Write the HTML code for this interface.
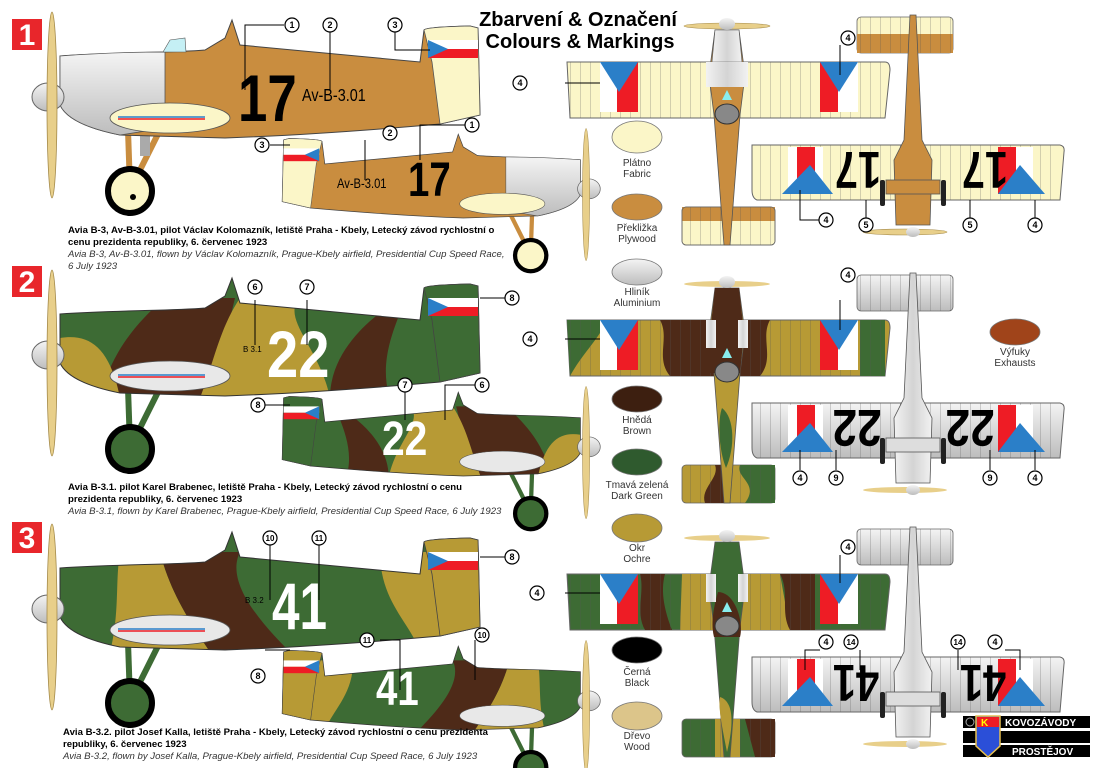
<!DOCTYPE html>
<html><head><meta charset="utf-8"><style>
html,body{margin:0;padding:0;background:#fff}
svg{display:block}
text{font-family:"Liberation Sans",sans-serif}
</style></head><body>
<svg width="1100" height="768" viewBox="0 0 1100 768" xmlns="http://www.w3.org/2000/svg">
<defs>
<path id="fus" d="M60,56 C120,52 170,53 205,50 L225,38 L232,20 L240,45 L420,62 L424,30 Q426,27 470,26 L478,28 L480,115 L440,124 C350,132 280,136 225,138 L120,135 C85,128 66,118 60,105 Z"/>
<clipPath id="fc"><use href="#fus"/></clipPath>
<linearGradient id="sil" x1="0" y1="0" x2="0" y2="1"><stop offset="0" stop-color="#f4f4f4"/><stop offset="1" stop-color="#bdbdbd"/></linearGradient>
<linearGradient id="silh" x1="0" y1="0" x2="1" y2="0"><stop offset="0" stop-color="#f2f2f2"/><stop offset="0.5" stop-color="#d4d4d4"/><stop offset="1" stop-color="#f2f2f2"/></linearGradient>
<pattern id="ribs" width="10" height="200" patternUnits="userSpaceOnUse"><line x1="0" y1="0" x2="0" y2="200" stroke="#555" stroke-width="0.5"/></pattern>
<g id="prop"><ellipse cx="52" cy="105" rx="5" ry="93" fill="#e8cf8a" stroke="#a48a4a" stroke-width="0.8"/></g>
</defs>

<!-- Title -->
<text x="578" y="26" font-size="20" font-weight="bold" text-anchor="middle">Zbarvení &amp; Označení</text>
<text x="580" y="48" font-size="20" font-weight="bold" text-anchor="middle">Colours &amp; Markings</text>

<g font-family="Liberation Serif" font-weight="bold" font-size="30" fill="#fff" text-anchor="middle">
<rect x="12" y="19" width="30" height="31" fill="#e8262b"/><text x="27" y="45">1</text>
<rect x="12" y="266" width="30" height="31" fill="#e8262b"/><text x="27" y="292">2</text>
<rect x="12" y="522" width="30" height="31" fill="#e8262b"/><text x="27" y="548">3</text>
</g>

<!-- Row 1 large -->
<g>
<line x1="128" y1="130" x2="130" y2="188" stroke="#c98d3f" stroke-width="6"/>
<line x1="160" y1="130" x2="132" y2="186" stroke="#c98d3f" stroke-width="6"/>
<rect x="140" y="128" width="10" height="28" fill="#aaa"/>
<circle cx="130" cy="191" r="22" fill="#fbf6c8" stroke="#000" stroke-width="6"/>
<circle cx="133" cy="197" r="3" fill="#000"/>
<use href="#fus" fill="#c98d3f" stroke="#444" stroke-width="1"/>
<path d="M60,56 C100,53 130,52 165,52 L165,128 L120,135 C85,128 66,118 60,105 Z" fill="url(#sil)" stroke="#555" stroke-width="0.8"/>
<path d="M424,30 Q426,27 470,26 L478,28 L480,115 L440,124 L432,62 Z" fill="#fbf6c8" stroke="#555" stroke-width="0.8"/>
<rect x="428" y="40" width="50" height="9" fill="#fff"/><rect x="428" y="49" width="50" height="9" fill="#ee1c25"/><path d="M428,40 L448,49 L428,58Z" fill="#2b7fc8"/>
<ellipse cx="170" cy="118" rx="60" ry="15" fill="#fbf6c8" stroke="#555" stroke-width="0.8"/>
<line x1="118" y1="117" x2="205" y2="117" stroke="#2b7fc8" stroke-width="1.5"/><line x1="118" y1="119" x2="205" y2="119" stroke="#ee1c25" stroke-width="1.5"/>
<path d="M163,52 L170,40 L185,38 L186,52Z" fill="#c5f0f5" stroke="#555" stroke-width="0.6"/>
<ellipse cx="48" cy="97" rx="16" ry="14" fill="url(#sil)" stroke="#666"/>
<use href="#prop"/>
</g>
<text x="238" y="121" font-size="66" font-weight="bold" transform="translate(238,0) scale(0.8,1) translate(-238,0)">17</text>
<text x="302" y="101" font-size="18" transform="translate(302,0) scale(0.8,1) translate(-302,0)">Av-B-3.01</text>

<g transform="translate(623,120) scale(-0.71,0.71)">
<line x1="128" y1="130" x2="130" y2="188" stroke="#c98d3f" stroke-width="6"/>
<line x1="160" y1="130" x2="132" y2="186" stroke="#c98d3f" stroke-width="6"/>
<circle cx="130" cy="191" r="22" fill="#fbf6c8" stroke="#000" stroke-width="6"/>
<use href="#fus" fill="#c98d3f" stroke="#444" stroke-width="1"/>
<path d="M60,56 C100,53 130,52 165,52 L165,128 L120,135 C85,128 66,118 60,105 Z" fill="url(#sil)" stroke="#555" stroke-width="0.8"/>
<path d="M424,30 Q426,27 470,26 L478,28 L480,115 L440,124 L432,62 Z" fill="#fbf6c8" stroke="#555" stroke-width="0.8"/>
<rect x="428" y="40" width="50" height="9" fill="#fff"/><rect x="428" y="49" width="50" height="9" fill="#ee1c25"/><path d="M428,40 L448,49 L428,58Z" fill="#2b7fc8"/>
<ellipse cx="170" cy="118" rx="60" ry="15" fill="#fbf6c8" stroke="#555" stroke-width="0.8"/>
<ellipse cx="48" cy="97" rx="16" ry="14" fill="url(#sil)" stroke="#666"/>
<use href="#prop"/>
</g>
<text x="408" y="196" font-size="48" font-weight="bold" transform="translate(408,0) scale(0.8,1) translate(-408,0)">17</text>
<text x="337" y="188" font-size="14" transform="translate(337,0) scale(0.8,1) translate(-337,0)">Av-B-3.01</text>

<!-- Row 2 -->
<g transform="translate(0,258)">
<line x1="128" y1="130" x2="130" y2="188" stroke="#3d6b34" stroke-width="6"/>
<line x1="160" y1="130" x2="132" y2="186" stroke="#3d6b34" stroke-width="6"/>
<circle cx="130" cy="191" r="22" fill="#3d6b34" stroke="#000" stroke-width="6"/>
<use href="#fus" fill="#3d6b34"/>
<g clip-path="url(#fc)">
<path d="M100,140 C110,100 130,70 165,40 L235,40 C225,80 220,110 235,140Z" fill="#4e2a18"/>
<path d="M200,140 C215,100 220,70 240,40 L300,40 C280,60 320,90 330,140Z" fill="#b79a35"/>
<path d="M60,80 C90,75 110,90 120,140 L60,140Z" fill="#b79a35"/>
<path d="M330,140 C330,100 360,70 380,55 L400,55 C390,80 380,110 390,140Z" fill="#4e2a18"/>
</g>
<use href="#fus" fill="none" stroke="#333" stroke-width="1"/>
<path d="M424,30 Q426,27 470,26 L478,28 L480,115 L440,124 L432,62 Z" fill="#3d6b34" stroke="#444" stroke-width="0.8"/>
<rect x="428" y="40" width="50" height="9" fill="#fff"/><rect x="428" y="49" width="50" height="9" fill="#ee1c25"/><path d="M428,40 L448,49 L428,58Z" fill="#2b7fc8"/>
<ellipse cx="170" cy="118" rx="60" ry="15" fill="#e8e8e8" stroke="#555" stroke-width="0.8"/>
<line x1="118" y1="117" x2="205" y2="117" stroke="#2b7fc8" stroke-width="1.5"/><line x1="118" y1="119" x2="205" y2="119" stroke="#ee1c25" stroke-width="1.5"/>
<ellipse cx="48" cy="97" rx="16" ry="14" fill="url(#sil)" stroke="#666"/>
<use href="#prop"/>
</g>
<text x="267" y="377" font-size="66" font-weight="bold" fill="#fff" transform="translate(267,0) scale(0.85,1) translate(-267,0)">22</text>
<text x="243" y="352" font-size="8">B 3.1</text>

<g transform="translate(623,378) scale(-0.71,0.71)">
<line x1="128" y1="130" x2="130" y2="188" stroke="#3d6b34" stroke-width="6"/>
<line x1="160" y1="130" x2="132" y2="186" stroke="#3d6b34" stroke-width="6"/>
<circle cx="130" cy="191" r="22" fill="#3d6b34" stroke="#000" stroke-width="6"/>
<use href="#fus" fill="#3d6b34"/>
<g clip-path="url(#fc)">
<path d="M100,140 C110,100 130,70 165,40 L235,40 C225,80 220,110 235,140Z" fill="#4e2a18"/>
<path d="M200,140 C215,100 220,70 240,40 L300,40 C280,60 320,90 330,140Z" fill="#b79a35"/>
<path d="M60,80 C90,75 110,90 120,140 L60,140Z" fill="#b79a35"/>
<path d="M330,140 C330,100 360,70 380,55 L400,55 C390,80 380,110 390,140Z" fill="#4e2a18"/>
</g>
<use href="#fus" fill="none" stroke="#333" stroke-width="1"/>
<path d="M424,30 Q426,27 470,26 L478,28 L480,115 L440,124 L432,62 Z" fill="#3d6b34" stroke="#444" stroke-width="0.8"/>
<rect x="428" y="40" width="50" height="9" fill="#fff"/><rect x="428" y="49" width="50" height="9" fill="#ee1c25"/><path d="M428,40 L448,49 L428,58Z" fill="#2b7fc8"/>
<ellipse cx="170" cy="118" rx="60" ry="15" fill="#e8e8e8" stroke="#555" stroke-width="0.8"/>
<ellipse cx="48" cy="97" rx="16" ry="14" fill="url(#sil)" stroke="#666"/>
<use href="#prop"/>
</g>
<text x="382" y="455" font-size="48" font-weight="bold" fill="#fff" transform="translate(382,0) scale(0.85,1) translate(-382,0)">22</text>

<!-- Row 3 -->
<g transform="translate(0,512)">
<line x1="128" y1="130" x2="130" y2="188" stroke="#3d6b34" stroke-width="6"/>
<line x1="160" y1="130" x2="132" y2="186" stroke="#3d6b34" stroke-width="6"/>
<circle cx="130" cy="191" r="22" fill="#3d6b34" stroke="#000" stroke-width="6"/>
<use href="#fus" fill="#3d6b34"/>
<g clip-path="url(#fc)">
<path d="M110,140 C120,100 115,70 120,40 L160,40 C170,80 190,110 210,140Z" fill="#b79a35"/>
<path d="M160,40 L240,40 C225,70 260,110 290,140 L210,140 C190,110 170,80 160,40Z" fill="#4e2a18"/>
<path d="M380,40 L480,40 L480,140 L420,140 C410,110 380,90 380,40Z" fill="#b79a35"/>
</g>
<use href="#fus" fill="none" stroke="#333" stroke-width="1"/>
<path d="M424,30 Q426,27 470,26 L478,28 L480,115 L440,124 L432,62 Z" fill="#b79a35" stroke="#444" stroke-width="0.8"/>
<rect x="428" y="40" width="50" height="9" fill="#fff"/><rect x="428" y="49" width="50" height="9" fill="#ee1c25"/><path d="M428,40 L448,49 L428,58Z" fill="#2b7fc8"/>
<ellipse cx="170" cy="118" rx="60" ry="15" fill="#e8e8e8" stroke="#555" stroke-width="0.8"/>
<line x1="118" y1="117" x2="205" y2="117" stroke="#2b7fc8" stroke-width="1.5"/><line x1="118" y1="119" x2="205" y2="119" stroke="#ee1c25" stroke-width="1.5"/>
<ellipse cx="48" cy="97" rx="16" ry="14" fill="url(#sil)" stroke="#666"/>
<use href="#prop"/>
</g>
<text x="272" y="629" font-size="66" font-weight="bold" fill="#fff" transform="translate(272,0) scale(0.75,1) translate(-272,0)">41</text>
<text x="245" y="603" font-size="8">B 3.2</text>

<g transform="translate(623,632) scale(-0.71,0.71)">
<line x1="128" y1="130" x2="130" y2="188" stroke="#3d6b34" stroke-width="6"/>
<line x1="160" y1="130" x2="132" y2="186" stroke="#3d6b34" stroke-width="6"/>
<circle cx="130" cy="191" r="22" fill="#3d6b34" stroke="#000" stroke-width="6"/>
<use href="#fus" fill="#3d6b34"/>
<g clip-path="url(#fc)">
<path d="M110,140 C120,100 115,70 120,40 L160,40 C170,80 190,110 210,140Z" fill="#b79a35"/>
<path d="M160,40 L240,40 C225,70 260,110 290,140 L210,140 C190,110 170,80 160,40Z" fill="#4e2a18"/>
<path d="M380,40 L480,40 L480,140 L420,140 C410,110 380,90 380,40Z" fill="#b79a35"/>
</g>
<use href="#fus" fill="none" stroke="#333" stroke-width="1"/>
<path d="M424,30 Q426,27 470,26 L478,28 L480,115 L440,124 L432,62 Z" fill="#b79a35" stroke="#444" stroke-width="0.8"/>
<rect x="428" y="40" width="50" height="9" fill="#fff"/><rect x="428" y="49" width="50" height="9" fill="#ee1c25"/><path d="M428,40 L448,49 L428,58Z" fill="#2b7fc8"/>
<ellipse cx="170" cy="118" rx="60" ry="15" fill="#e8e8e8" stroke="#555" stroke-width="0.8"/>
<ellipse cx="48" cy="97" rx="16" ry="14" fill="url(#sil)" stroke="#666"/>
<use href="#prop"/>
</g>
<text x="376" y="705" font-size="48" font-weight="bold" fill="#fff" transform="translate(376,0) scale(0.8,1) translate(-376,0)">41</text>

<!-- Captions -->
<g font-size="9.6" fill="#000">
<text x="68" y="233" font-weight="bold">Avia B-3, Av-B-3.01, pilot Václav Kolomazník, letiště Praha - Kbely, Letecký závod rychlostní o</text>
<text x="68" y="245" font-weight="bold">cenu prezidenta republiky, 6. červenec 1923</text>
<text x="68" y="257" font-style="italic" fill="#333">Avia B-3, Av-B-3.01, flown by Václav Kolomazník, Prague-Kbely airfield, Presidential Cup Speed Race,</text>
<text x="68" y="269" font-style="italic" fill="#333">6 July 1923</text>
<text x="68" y="490" font-weight="bold">Avia B-3.1. pilot Karel Brabenec, letiště Praha - Kbely, Letecký závod rychlostní o cenu</text>
<text x="68" y="502" font-weight="bold">prezidenta republiky, 6. červenec 1923</text>
<text x="68" y="514" font-style="italic" fill="#333">Avia B-3.1, flown by Karel Brabenec, Prague-Kbely airfield, Presidential Cup Speed Race, 6 July 1923</text>
<text x="63" y="735" font-weight="bold">Avia B-3.2. pilot Josef Kalla, letiště Praha - Kbely, Letecký závod rychlostní o cenu prezidenta</text>
<text x="63" y="747" font-weight="bold">republiky, 6. červenec 1923</text>
<text x="63" y="759" font-style="italic" fill="#333">Avia B-3.2, flown by Josef Kalla, Prague-Kbely airfield, Presidential Cup Speed Race, 6 July 1923</text>
</g>

<!-- TOP VIEWS -->
<g>
<ellipse cx="727" cy="26" rx="43" ry="3" fill="#e8cf8a" stroke="#a48a4a" stroke-width="0.6"/>
<rect x="682" y="207" width="93" height="38" rx="4" fill="#fbf6c8" stroke="#666" stroke-width="0.8"/>
<rect x="682" y="207" width="93" height="14" fill="#c98d3f"/>
<rect x="682" y="207" width="93" height="38" rx="4" fill="url(#ribs)" stroke="#666" stroke-width="0.8"/>
<path d="M567,62 L885,62 Q890,62 890,70 L885,118 L570,118 Z" fill="#fbf6c8" stroke="#666"/>
<path d="M567,62 L885,62 L885,118 L570,118 Z" fill="url(#ribs)"/>
<rect x="600" y="62" width="38" height="50" fill="#fff"/><rect x="617" y="62" width="21" height="50" fill="#ee1c25"/><path d="M600,62 L638,62 L619,92Z" fill="#2b7fc8"/>
<rect x="820" y="62" width="38" height="50" fill="#fff"/><rect x="820" y="62" width="18" height="50" fill="#ee1c25"/><path d="M820,62 L858,62 L839,92Z" fill="#2b7fc8"/>
<path d="M715,30 L739,30 L745,75 L740,115 L730,245 L724,245 L714,115 L709,75Z" fill="#c98d3f" stroke="#555" stroke-width="0.8"/>
<path d="M715,30 L739,30 L742,62 L712,62Z" fill="url(#silh)" stroke="#555" stroke-width="0.6"/>
<rect x="706" y="62" width="42" height="25" fill="url(#silh)"/>
<ellipse cx="727" cy="114" rx="12" ry="10" fill="#888" stroke="#333"/>
<path d="M722,100 L727,90 L732,100Z" fill="#8ee"/>
<ellipse cx="727" cy="24" rx="8" ry="6" fill="url(#sil)"/>
</g>
<g transform="translate(0,258)">
<ellipse cx="727" cy="26" rx="43" ry="3" fill="#e8cf8a"/>
<rect x="682" y="207" width="93" height="38" rx="4" fill="#b79a35" stroke="#666" stroke-width="0.8"/>
<path d="M715,207 L730,207 L730,245 L705,245 C700,230 720,220 715,207Z" fill="#4e2a18"/><path d="M740,207 L775,207 L775,245 L745,245 C760,225 735,220 740,207Z" fill="#3d6b34"/>
<rect x="682" y="207" width="93" height="38" fill="url(#ribs)"/>
<path d="M567,62 L885,62 Q890,62 890,70 L885,118 L570,118 Z" fill="#b79a35" stroke="#666"/>
<path d="M567,62 L600,62 L600,75 C590,90 580,100 570,118 Z" fill="#3d6b34"/>
<path d="M860,62 L885,62 L885,118 L860,118Z" fill="#3d6b34"/>
<path d="M660,62 L770,62 C760,80 775,100 760,118 L670,118 C655,100 670,80 660,62Z" fill="#4e2a18"/>
<path d="M567,62 L885,62 L885,118 L570,118 Z" fill="url(#ribs)"/>
<rect x="600" y="62" width="38" height="50" fill="#fff"/><rect x="617" y="62" width="21" height="50" fill="#ee1c25"/><path d="M600,62 L638,62 L619,92Z" fill="#2b7fc8"/>
<rect x="820" y="62" width="38" height="50" fill="#fff"/><rect x="820" y="62" width="18" height="50" fill="#ee1c25"/><path d="M820,62 L858,62 L839,92Z" fill="#2b7fc8"/>
<path d="M715,30 L739,30 L745,75 L740,115 L730,245 L724,245 L714,115 L709,75Z" fill="#b79a35" stroke="#555" stroke-width="0.8"/>
<path d="M715,30 L739,30 L744,75 L740,115 L710,115 L710,75Z" fill="#4e2a18"/>
<path d="M722,150 C735,160 735,190 726,210 C718,190 718,160 722,150Z" fill="#3d6b34"/>
<rect x="706" y="62" width="10" height="28" fill="url(#silh)"/><rect x="738" y="62" width="10" height="28" fill="url(#silh)"/>
<ellipse cx="727" cy="114" rx="12" ry="10" fill="#888" stroke="#333"/>
<path d="M722,100 L727,90 L732,100Z" fill="#8ee"/>
<ellipse cx="727" cy="24" rx="8" ry="6" fill="url(#sil)"/>
</g>
<g transform="translate(0,512)">
<ellipse cx="727" cy="26" rx="43" ry="3" fill="#e8cf8a"/>
<rect x="682" y="207" width="93" height="38" rx="4" fill="#3d6b34" stroke="#666" stroke-width="0.8"/>
<path d="M715,207 L740,207 L740,245 L715,245Z" fill="#b79a35"/><path d="M745,207 L775,207 L775,245 L755,245Z" fill="#4e2a18"/>
<rect x="682" y="207" width="93" height="38" fill="url(#ribs)"/>
<path d="M567,62 L885,62 Q890,62 890,70 L885,118 L570,118 Z" fill="#3d6b34" stroke="#666"/>
<path d="M640,62 L665,62 C660,80 665,100 672,118 L645,118 C635,100 645,80 640,62Z" fill="#4e2a18"/>
<path d="M682,62 L780,62 L790,118 L680,118Z" fill="#b79a35"/>
<path d="M780,62 L815,62 L815,118 L790,118 C780,100 790,80 780,62Z" fill="#4e2a18"/>
<path d="M567,62 L885,62 L885,118 L570,118 Z" fill="url(#ribs)"/>
<rect x="600" y="62" width="38" height="50" fill="#fff"/><rect x="617" y="62" width="21" height="50" fill="#ee1c25"/><path d="M600,62 L638,62 L619,92Z" fill="#2b7fc8"/>
<rect x="820" y="62" width="38" height="50" fill="#fff"/><rect x="820" y="62" width="18" height="50" fill="#ee1c25"/><path d="M820,62 L858,62 L839,92Z" fill="#2b7fc8"/>
<path d="M715,30 L739,30 L745,75 L740,115 L730,245 L724,245 L714,115 L709,75Z" fill="#3d6b34" stroke="#555" stroke-width="0.8"/>
<path d="M718,80 C735,80 744,110 740,125 L714,125 C710,110 715,90 718,80Z" fill="#4e2a18"/>
<path d="M720,185 C735,190 733,215 727,240 C722,215 718,195 720,185Z" fill="#b79a35"/>
<rect x="706" y="62" width="10" height="28" fill="url(#silh)"/><rect x="738" y="62" width="10" height="28" fill="url(#silh)"/>
<ellipse cx="727" cy="114" rx="12" ry="10" fill="#888" stroke="#333"/>
<path d="M722,100 L727,90 L732,100Z" fill="#8ee"/>
<ellipse cx="727" cy="24" rx="8" ry="6" fill="url(#sil)"/>
</g>

<!-- BOTTOM VIEWS -->
<g>
<rect x="857" y="17" width="96" height="36" rx="4" fill="#fbf6c8" stroke="#666" stroke-width="0.8"/>
<rect x="857" y="34" width="96" height="19" fill="#c98d3f"/>
<rect x="857" y="17" width="96" height="36" fill="url(#ribs)"/>
<path d="M752,145 L1060,145 Q1065,146 1064,152 L1060,200 L757,200 Q752,198 752,190Z" fill="#fbf6c8" stroke="#666"/>
<path d="M752,145 L1060,145 L1060,200 L757,200Z" fill="url(#ribs)"/>
<rect x="788" y="147" width="35" height="47" fill="#fff"/><rect x="797" y="147" width="18" height="47" fill="#ee1c25"/><path d="M782,194 L810,165 L833,194Z" fill="#2b7fc8"/>
<rect x="998" y="147" width="35" height="47" fill="#fff"/><rect x="998" y="147" width="18" height="47" fill="#ee1c25"/><path d="M998,194 L1020,165 L1045,194Z" fill="#2b7fc8"/>
<path d="M910,15 L916,15 L922,140 L932,160 L930,225 L896,225 L894,160 L904,140Z" fill="#c98d3f" stroke="#555" stroke-width="0.8"/>
<rect x="886" y="180" width="54" height="14" fill="#c98d3f" stroke="#555" stroke-width="0.8"/>
<rect x="880" y="180" width="5" height="26" rx="2" fill="#222"/><rect x="941" y="180" width="5" height="26" rx="2" fill="#222"/>
<ellipse cx="905" cy="232" rx="42" ry="3" fill="#e8cf8a" stroke="#a48a4a" stroke-width="0.6"/>
<ellipse cx="913" cy="232" rx="7" ry="5" fill="url(#sil)"/>
</g>
<g transform="translate(0,258)">
<rect x="857" y="17" width="96" height="36" rx="4" fill="url(#sil)" stroke="#666" stroke-width="0.8"/>
<rect x="857" y="17" width="96" height="36" fill="url(#ribs)"/>
<path d="M752,145 L1060,145 Q1065,146 1064,152 L1060,200 L757,200 Q752,198 752,190Z" fill="url(#sil)" stroke="#666"/>
<path d="M752,145 L1060,145 L1060,200 L757,200Z" fill="url(#ribs)"/>
<rect x="788" y="147" width="35" height="47" fill="#fff"/><rect x="797" y="147" width="18" height="47" fill="#ee1c25"/><path d="M782,194 L810,165 L833,194Z" fill="#2b7fc8"/>
<rect x="998" y="147" width="35" height="47" fill="#fff"/><rect x="998" y="147" width="18" height="47" fill="#ee1c25"/><path d="M998,194 L1020,165 L1045,194Z" fill="#2b7fc8"/>
<path d="M910,15 L916,15 L922,140 L932,160 L930,225 L896,225 L894,160 L904,140Z" fill="url(#silh)" stroke="#555" stroke-width="0.8"/>
<rect x="886" y="180" width="54" height="14" fill="#ddd" stroke="#555" stroke-width="0.8"/>
<rect x="880" y="180" width="5" height="26" rx="2" fill="#222"/><rect x="941" y="180" width="5" height="26" rx="2" fill="#222"/>
<ellipse cx="905" cy="232" rx="42" ry="3" fill="#e8cf8a"/>
<ellipse cx="913" cy="232" rx="7" ry="5" fill="url(#sil)"/>
</g>
<g transform="translate(0,512)">
<rect x="857" y="17" width="96" height="36" rx="4" fill="url(#sil)" stroke="#666" stroke-width="0.8"/>
<rect x="857" y="17" width="96" height="36" fill="url(#ribs)"/>
<path d="M752,145 L1060,145 Q1065,146 1064,152 L1060,200 L757,200 Q752,198 752,190Z" fill="url(#sil)" stroke="#666"/>
<path d="M752,145 L1060,145 L1060,200 L757,200Z" fill="url(#ribs)"/>
<rect x="788" y="147" width="35" height="47" fill="#fff"/><rect x="797" y="147" width="18" height="47" fill="#ee1c25"/><path d="M782,194 L810,165 L833,194Z" fill="#2b7fc8"/>
<rect x="998" y="147" width="35" height="47" fill="#fff"/><rect x="998" y="147" width="18" height="47" fill="#ee1c25"/><path d="M998,194 L1020,165 L1045,194Z" fill="#2b7fc8"/>
<path d="M910,15 L916,15 L922,140 L932,160 L930,225 L896,225 L894,160 L904,140Z" fill="url(#silh)" stroke="#555" stroke-width="0.8"/>
<rect x="886" y="180" width="54" height="14" fill="#ddd" stroke="#555" stroke-width="0.8"/>
<rect x="880" y="180" width="5" height="26" rx="2" fill="#222"/><rect x="941" y="180" width="5" height="26" rx="2" fill="#222"/>
<ellipse cx="905" cy="232" rx="42" ry="3" fill="#e8cf8a"/>
<ellipse cx="913" cy="232" rx="7" ry="5" fill="url(#sil)"/>
</g>
<g font-weight="bold" font-size="52" text-anchor="middle">
<text transform="translate(858,152) rotate(180) scale(0.8,1)">17</text>
<text transform="translate(985,152) rotate(180) scale(0.8,1)">17</text>
<text transform="translate(857,410) rotate(180) scale(0.85,1)">22</text>
<text transform="translate(970,410) rotate(180) scale(0.85,1)">22</text>
<text transform="translate(856,665) rotate(180) scale(0.8,1)">41</text>
<text transform="translate(983,665) rotate(180) scale(0.8,1)">41</text>
</g>

<!-- Swatches -->
<g stroke="#777" stroke-width="0.8">
<ellipse cx="637" cy="137" rx="25" ry="16" fill="#fbf6c8"/>
<ellipse cx="637" cy="207" rx="25" ry="13" fill="#c98d3f"/>
<ellipse cx="637" cy="272" rx="25" ry="13" fill="url(#sil)"/>
<ellipse cx="637" cy="399" rx="25" ry="13" fill="#3d1f10"/>
<ellipse cx="637" cy="462" rx="25" ry="13" fill="#2f5a2e"/>
<ellipse cx="637" cy="528" rx="25" ry="14" fill="#b79a35"/>
<ellipse cx="637" cy="650" rx="25" ry="13" fill="#000"/>
<ellipse cx="637" cy="716" rx="25" ry="14" fill="#dcc58a"/>
<ellipse cx="1015" cy="332" rx="25" ry="13" fill="#a0441a"/>
</g>
<g font-size="10" fill="#333" text-anchor="middle">
<text x="637" y="166">Plátno</text><text x="637" y="177">Fabric</text>
<text x="637" y="231">Překližka</text><text x="637" y="242">Plywood</text>
<text x="637" y="295">Hliník</text><text x="637" y="306">Aluminium</text>
<text x="637" y="423">Hnědá</text><text x="637" y="434">Brown</text>
<text x="637" y="488">Tmavá zelená</text><text x="637" y="499">Dark Green</text>
<text x="637" y="551">Okr</text><text x="637" y="562">Ochre</text>
<text x="637" y="675">Černá</text><text x="637" y="686">Black</text>
<text x="637" y="739">Dřevo</text><text x="637" y="750">Wood</text>
<text x="1015" y="355">Výfuky</text><text x="1015" y="366">Exhausts</text>
</g>

<!-- Callouts -->
<g stroke="#000" stroke-width="1" fill="none">
<path d="M245,90 L245,25 L284,25"/><path d="M330,90 L330,32"/><path d="M430,50 L395,50 L395,32"/>
<path d="M270,145 L290,145"/><path d="M365,180 L365,140"/><path d="M420,160 L420,125 L465,125"/>
<path d="M840,75 L840,45"/><path d="M565,83 L600,83"/><path d="M800,190 L800,220 L820,220"/><path d="M866,200 L866,218"/><path d="M970,200 L970,218"/><path d="M1035,200 L1035,218"/>
<path d="M255,345 L255,300"/><path d="M307,345 L307,300"/><path d="M480,298 L505,298"/>
<path d="M265,405 L290,405"/><path d="M405,420 L405,392"/><path d="M445,420 L445,385 L475,385"/>
<path d="M840,330 L840,300"/><path d="M565,339 L600,339"/><path d="M800,450 L800,470"/><path d="M836,450 L836,470"/><path d="M990,450 L990,470"/><path d="M1035,450 L1035,470"/>
<path d="M270,600 L270,545"/><path d="M319,600 L319,545"/><path d="M480,557 L505,557"/>
<path d="M265,650 L290,650"/><path d="M380,640 L400,640 L400,690"/><path d="M475,680 L475,640"/>
<path d="M840,583 L840,555"/><path d="M565,593 L600,593"/><path d="M805,670 L805,650 L820,650"/><path d="M860,670 L860,650"/><path d="M958,670 L958,650"/><path d="M1020,670 L1020,650 L1005,650"/>
</g>
<g font-size="9" font-weight="bold" text-anchor="middle">
<g fill="#fff" stroke="#000" stroke-width="1.2">
<circle cx="292" cy="25" r="7"/><circle cx="330" cy="25" r="7"/><circle cx="395" cy="25" r="7"/>
<circle cx="262" cy="145" r="7"/><circle cx="390" cy="133" r="7"/><circle cx="472" cy="125" r="7"/>
<circle cx="848" cy="38" r="7"/><circle cx="520" cy="83" r="7"/><circle cx="826" cy="220" r="7"/><circle cx="866" cy="225" r="7"/><circle cx="970" cy="225" r="7"/><circle cx="1035" cy="225" r="7"/>
<circle cx="255" cy="287" r="7"/><circle cx="307" cy="287" r="7"/><circle cx="512" cy="298" r="7"/>
<circle cx="258" cy="405" r="7"/><circle cx="405" cy="385" r="7"/><circle cx="482" cy="385" r="7"/>
<circle cx="848" cy="275" r="7"/><circle cx="530" cy="339" r="7"/><circle cx="800" cy="478" r="7"/><circle cx="836" cy="478" r="7"/><circle cx="990" cy="478" r="7"/><circle cx="1035" cy="478" r="7"/>
<circle cx="270" cy="538" r="7"/><circle cx="319" cy="538" r="7"/><circle cx="512" cy="557" r="7"/>
<circle cx="258" cy="676" r="7"/><circle cx="367" cy="640" r="7"/><circle cx="482" cy="635" r="7"/>
<circle cx="848" cy="547" r="7"/><circle cx="537" cy="593" r="7"/><circle cx="826" cy="642" r="7"/><circle cx="851" cy="642" r="7"/><circle cx="958" cy="642" r="7"/><circle cx="995" cy="642" r="7"/>
</g>
<text x="292" y="28">1</text><text x="330" y="28">2</text><text x="395" y="28">3</text>
<text x="262" y="148">3</text><text x="390" y="136">2</text><text x="472" y="128">1</text>
<text x="848" y="41">4</text><text x="520" y="86">4</text><text x="826" y="223">4</text><text x="866" y="228">5</text><text x="970" y="228">5</text><text x="1035" y="228">4</text>
<text x="255" y="290">6</text><text x="307" y="290">7</text><text x="512" y="301">8</text>
<text x="258" y="408">8</text><text x="405" y="388">7</text><text x="482" y="388">6</text>
<text x="848" y="278">4</text><text x="530" y="342">4</text><text x="800" y="481">4</text><text x="836" y="481">9</text><text x="990" y="481">9</text><text x="1035" y="481">4</text>
<text x="270" y="541" font-size="8">10</text><text x="319" y="541" font-size="8">11</text><text x="512" y="560">8</text>
<text x="258" y="679">8</text><text x="367" y="643" font-size="8">11</text><text x="482" y="638" font-size="8">10</text>
<text x="848" y="550">4</text><text x="537" y="596">4</text><text x="826" y="645">4</text><text x="851" y="645" font-size="8">14</text><text x="958" y="645" font-size="8">14</text><text x="995" y="645">4</text>
</g>

<!-- Logo -->
<g>
<rect x="963" y="716" width="127" height="12" fill="#000"/>
<rect x="963" y="731" width="127" height="12" fill="#000"/>
<rect x="963" y="745" width="127" height="12" fill="#000"/>
<circle cx="970" cy="722" r="4" fill="none" stroke="#aaa"/>
<path d="M976,716 L1000,716 L1000,746 L988,757 L976,746Z" fill="#2b4fd8" stroke="#e8c050" stroke-width="1.5"/>
<rect x="977" y="717" width="22" height="10" fill="#ee1c25"/>
<text x="981" y="726" font-size="10" font-weight="bold" fill="#ff0">K</text>
<text x="1005" y="726" font-size="10" font-weight="bold" fill="#fff">KOVOZÁVODY</text>
<text x="1012" y="755" font-size="10" font-weight="bold" fill="#fff">PROSTĚJOV</text>
</g>
</svg>
</body></html>
